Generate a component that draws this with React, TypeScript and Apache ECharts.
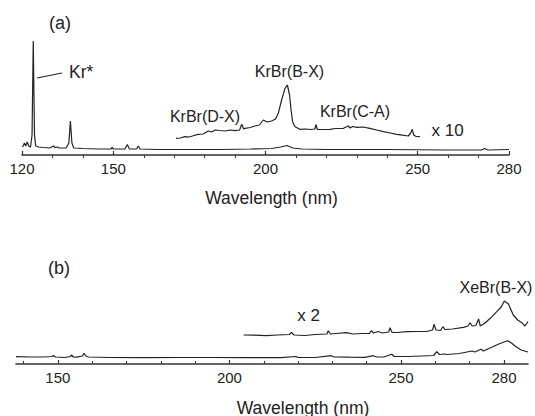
import React, { useEffect, useRef } from "react";
import * as echarts from "echarts";

// ---------- data (wavelength in nm, intensity in arbitrary units) ----------
const topX1Wl = [120.2, 120.8, 121.2, 121.7, 122.2, 122.8, 123.3, 123.7, 124.1, 124.5, 125.5, 127, 129, 130.4, 130.8, 131.6, 132.2, 134.5, 135.4, 135.9, 136.4, 137, 140, 145, 149.2, 149.6, 150, 153.8, 154.6, 155.3, 157.6, 158.2, 158.8, 165, 175, 185, 195, 202, 205, 207, 209, 212, 220, 240, 260, 271, 272, 273, 280];
const topX1Int = [8, 12, 9, 13, 9, 8, 20, 114, 20, 9, 8, 7.5, 7, 9, 7.5, 8, 7, 7, 12, 34, 12, 7, 6.5, 6, 6, 7.5, 6, 6, 10.5, 6, 6, 9, 6, 5.5, 5.5, 5.5, 6, 6.5, 8, 9.5, 7, 6, 5.5, 5.5, 5, 5, 6.5, 5, 5.5];

const topX10Wl = [170.6, 172, 173.5, 175, 176.5, 177.9, 179.5, 181.2, 182.3, 183.4, 185, 186.7, 188.3, 190, 191.5, 192.2, 192.8, 193.3, 195, 196.5, 198, 199.3, 200.5, 202, 203.3, 204.2, 205.3, 206.4, 207.2, 207.9, 208.4, 208.9, 209.7, 211.3, 213, 215, 216.2, 216.6, 217, 219, 221.2, 223, 225.6, 227.2, 227.8, 228.6, 230, 232, 234.3, 236.5, 238.7, 241, 243.1, 245, 246.9, 247.7, 248.2, 248.7, 249.5, 250.7];
const topX10Int = [16.7, 17, 18.3, 18, 19.5, 20.7, 21, 24, 23, 25, 24.5, 24, 25, 24.3, 25, 30.7, 26, 26.7, 27.5, 29, 30, 35, 33, 34, 36, 41.7, 55, 66.7, 70, 60, 45, 33.3, 28.3, 25.7, 26, 25.5, 26, 30.7, 25.5, 25.5, 25.7, 26.5, 26.7, 29, 27, 28.5, 27.7, 28, 26.7, 25, 23.3, 22, 20.7, 19.8, 19, 22, 25.7, 20, 18.5, 18.3];

const botX1Wl = [137.8, 142, 146, 148.3, 148.7, 149.3, 152, 153.6, 154, 154.5, 155.5, 157.2, 157.6, 158.2, 159, 165, 175, 185, 195, 205, 215, 219.4, 220, 225, 229.6, 230.5, 235, 239.5, 241.9, 243, 245, 247.3, 248, 252, 256, 259.5, 260.4, 261.2, 262.5, 263.5, 267, 270.7, 271.5, 273.3, 274, 276.4, 278.5, 280, 281.1, 282.2, 283.2, 285, 287];
const botX1Int = [7.3, 7, 7, 7.5, 8.5, 7, 6.5, 7.5, 9, 7, 6.8, 8, 10.7, 8, 7, 6.5, 6.3, 6.5, 6.5, 6.3, 6.3, 7.5, 6.5, 6.5, 8.3, 7, 6.8, 6.7, 8.3, 7, 7, 9.7, 7.5, 7.5, 8, 8.5, 12.3, 9.5, 10, 9.5, 10.5, 13, 12, 14.7, 13, 16.7, 20, 22, 23.3, 21, 18, 14, 12];

const botX2Wl = [204.1, 207, 210.8, 214, 217.5, 218.1, 218.8, 222, 225, 228.4, 228.8, 229.4, 231, 234.1, 236, 238.5, 240.8, 241.4, 242, 243.3, 244.5, 246.4, 246.8, 247.4, 249, 251.6, 255, 257.5, 259.2, 259.6, 260.2, 261.5, 262.2, 262.8, 265, 268.2, 269.5, 270.1, 270.7, 271.8, 272.6, 273.1, 274.5, 276, 277.9, 279.2, 280.1, 281.3, 282.7, 284, 285.2, 286.1, 287];
const botX2Int = [29, 28.8, 28.3, 29, 29.5, 31.7, 29, 28.5, 29.5, 30, 33.3, 30, 30.5, 31.3, 30, 30.5, 30.7, 33.3, 31, 32.5, 31, 32, 36.3, 31.5, 31.5, 32.3, 32.5, 32.5, 34, 39.7, 34, 33.5, 37.3, 34.5, 35, 36.7, 38, 41.3, 38, 38.5, 45, 38, 41, 45.7, 52.3, 57, 63, 60, 49, 44, 41.3, 38, 42.3];

const topMajorTicks = [120, 150, 200, 250, 280];
const topMinorTicks = [130, 140, 160, 170, 180, 190, 210, 220, 230, 240, 260, 270];
const botMajorTicks = [150, 200, 250, 280];
const botMinorTicks = [140, 160, 170, 180, 190, 210, 220, 230, 240, 260, 270];

const axisTitle = "Wavelength (nm)";

// ---------- styling ----------
const FONT = '"Liberation Sans", Arial, Helvetica, sans-serif';
const INK = "#222";

const zip = (xs: number[], ys: number[]) => xs.map((x, i) => [x, ys[i]]);

const txt = (text: string, x: number, y: number, size: number, align = "left") => ({
  type: "text",
  x,
  y,
  silent: true,
  style: {
    text,
    fill: INK,
    fontSize: size,
    fontFamily: FONT,
    align,
    verticalAlign: "middle",
  },
});

const majorAxis = (grid: number, min: number, max: number, ticks: number[]) => ({
  type: "value",
  gridIndex: grid,
  min,
  max,
  position: "bottom",
  axisLine: { show: true, lineStyle: { color: "#333", width: 1.6 } },
  axisTick: { show: true, inside: true, length: 4, customValues: ticks, lineStyle: { color: "#333", width: 1.2 } },
  axisLabel: { show: true, customValues: ticks, margin: 6, fontSize: 15, fontFamily: FONT, color: INK },
  splitLine: { show: false },
});

const minorAxis = (grid: number, min: number, max: number, ticks: number[], inside: boolean) => ({
  type: "value",
  gridIndex: grid,
  min,
  max,
  position: "bottom",
  axisLine: { show: false },
  axisTick: { show: true, inside, length: 3, customValues: ticks, lineStyle: { color: "#333", width: 1 } },
  axisLabel: { show: false },
  splitLine: { show: false },
});

const lineSeries = (xAxisIndex: number, yAxisIndex: number, data: number[][]) => ({
  type: "line",
  xAxisIndex,
  yAxisIndex,
  data,
  showSymbol: false,
  symbol: "none",
  silent: true,
  lineStyle: { color: INK, width: 1.2 },
});

export default function App() {
  const ref = useRef<HTMLDivElement>(null);

  useEffect(() => {
    if (!ref.current) return;
    const chart = echarts.init(ref.current, undefined, { renderer: "svg" });
    chart.setOption({
      animation: false,
      backgroundColor: "#fff",
      grid: [
        { left: 22, width: 487, top: 35, height: 120 },
        { left: 16, width: 512, top: 280, height: 84 },
      ],
      xAxis: [
        majorAxis(0, 120, 280, topMajorTicks),
        minorAxis(0, 120, 280, topMinorTicks, false),
        majorAxis(1, 137.8, 287, botMajorTicks),
        minorAxis(1, 137.8, 287, botMinorTicks, true),
      ],
      yAxis: [
        { type: "value", gridIndex: 0, min: 0, max: 120, show: false },
        { type: "value", gridIndex: 1, min: 0, max: 84, show: false },
      ],
      series: [
        lineSeries(0, 0, zip(topX1Wl, topX1Int)),
        lineSeries(0, 0, zip(topX10Wl, topX10Int)),
        lineSeries(2, 1, zip(botX1Wl, botX1Int)),
        lineSeries(2, 1, zip(botX2Wl, botX2Int)),
      ],
      graphic: [
        txt("(a)", 49, 23, 18),
        txt("Kr*", 69, 71.5, 17.5),
        { type: "line", silent: true, shape: { x1: 37, y1: 78, x2: 62, y2: 73 }, style: { stroke: INK, lineWidth: 1.2 } },
        txt("KrBr(B-X)", 289.5, 71, 16, "center"),
        txt("KrBr(D-X)", 205, 116, 16, "center"),
        txt("KrBr(C-A)", 355, 111, 16, "center"),
        txt("x 10", 431.5, 130, 17),
        txt(axisTitle, 271.5, 198, 17.5, "center"),
        txt("(b)", 48, 268, 18),
        txt("x 2", 297.3, 315.5, 17),
        txt("XeBr(B-X)", 496, 287.5, 16, "center"),
        txt(axisTitle, 303, 407.5, 17.5, "center"),
      ],
    });
    return () => chart.dispose();
  }, []);

  return (
    <div
      ref={ref}
      style={{ position: "fixed", left: 0, top: 0, width: 535, height: 416, background: "#fff" }}
    />
  );
}
